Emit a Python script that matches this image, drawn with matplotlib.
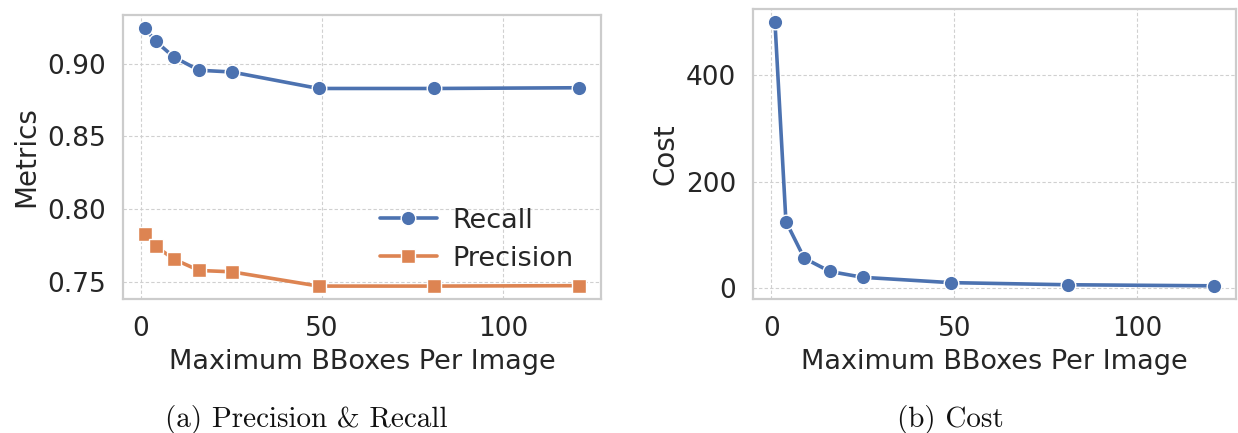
import matplotlib
matplotlib.use("Agg")
import matplotlib.pyplot as plt
import seaborn as sns

# Sweep over the maximum number of bounding boxes allowed per image
max_bboxes = [1, 4, 9, 16, 25, 49, 81, 121]
recall = [0.9244, 0.9153, 0.9045, 0.8954, 0.8942, 0.8829, 0.8829, 0.8834]
precision = [0.7829, 0.7749, 0.7660, 0.7582, 0.7573, 0.7475, 0.7475, 0.7478]
cost = [500, 125, 56, 31, 20, 10, 6, 4]

sns.set_theme(style="whitegrid")
plt.rcParams["font.family"] = ["DejaVu Sans"]

blue = "#4c72b0"
orange = "#dd8452"
grid_kw = dict(color="#d0d0d0", linestyle=(0, (3, 2)), linewidth=0.8)

fig = plt.figure(figsize=(12.38, 4.33), dpi=100)

W, H = 1238, 433
def box(x0, y0, x1, y1):
    return [x0 / W, 1 - y1 / H, (x1 - x0) / W, (y1 - y0) / H]

ax1 = fig.add_axes(box(123, 15, 601, 299))
ax2 = fig.add_axes(box(753, 9, 1236, 299))

line_kw = dict(linewidth=2.6, markeredgecolor="white", markeredgewidth=1.0)

ax1.plot(max_bboxes, recall, marker="o", markersize=10.5, color=blue,
         label="Recall", **line_kw)
ax1.plot(max_bboxes, precision, marker="s", markersize=10, color=orange,
         label="Precision", **line_kw)
ax1.set_yticks([0.75, 0.80, 0.85, 0.90])
ax1.set_yticklabels(["0.75", "0.80", "0.85", "0.90"])
ax1.set_ylabel("Metrics", fontsize=20, labelpad=5)
leg = ax1.legend(loc="lower right", bbox_to_anchor=(1.0, 0.0),
                 frameon=False, fontsize=19.5, handlelength=2.1,
                 borderaxespad=0.6, labelspacing=0.45, handletextpad=0.6)

ax2.plot(max_bboxes, cost, marker="o", markersize=10.5, color=blue, **line_kw)
ax2.set_yticks([0, 200, 400])
ax2.set_ylabel("Cost", fontsize=20, labelpad=5)

for ax in (ax1, ax2):
    ax.set_xticks([0, 50, 100])
    ax.set_xlabel("Maximum BBoxes Per Image", fontsize=19.5, labelpad=5)
    ax.grid(True, **grid_kw)
    ax.tick_params(axis="both", length=0, pad=12, labelsize=19,
                   labelcolor="#262626")
    for sp in ax.spines.values():
        sp.set_color("#cccccc")
        sp.set_linewidth(1.6)

fig.text(306 / W, 1 - 427 / H, "(a) Precision & Recall", family="cmr10",
         fontsize=21, ha="center", va="baseline", color="#111111")
fig.text(950 / W, 1 - 427 / H, "(b) Cost", family="cmr10",
         fontsize=21, ha="center", va="baseline", color="#111111")

fig.savefig("out.png", dpi=100)
